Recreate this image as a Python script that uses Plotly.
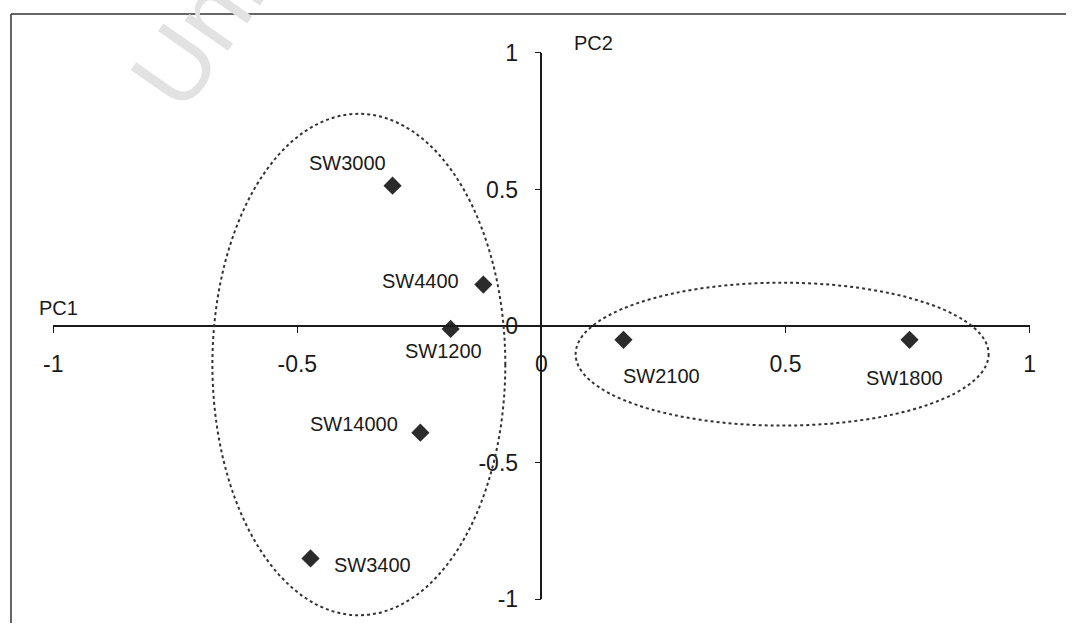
import plotly.graph_objects as go

# PCA scores of the samples
samples = ["SW3000", "SW4400", "SW1200", "SW2100", "SW1800", "SW14000", "SW3400"]
pc1 = [-0.305, -0.119, -0.186, 0.168, 0.754, -0.248, -0.473]
pc2 = [0.514, 0.152, -0.010, -0.050, -0.050, -0.390, -0.850]

# label offsets in pixels (dx, dy up-positive)
label_shift = {
    "SW3000": (-45, 23),
    "SW4400": (-63, 4),
    "SW1200": (-7, -22),
    "SW2100": (38, -36),
    "SW1800": (-5, -38),
    "SW14000": (-66, 9),
    "SW3400": (62, -7),
}

# cluster outlines: (x0, x1, y0, y1)
clusters = [
    (-0.674, -0.074, -1.058, 0.777),
    (0.070, 0.916, -0.364, 0.159),
]

tick_vals = [-1, -0.5, 0, 0.5, 1]
tick_text = ["-1", "-0.5", "0", "0.5", "1"]

W, H = 1072, 636
# pixel layout of the score space (origin and length of one unit)
X0_PX, X_UNIT = 539.5, 495.6
Y0_PX, Y_UNIT = 326.5, 284.9

FONT = "Liberation Sans, Arial, sans-serif"
INK = "#1a1a1a"

fig = go.Figure()

fig.add_trace(go.Scatter(
    x=pc1, y=pc2, mode="markers",
    marker=dict(symbol="diamond", size=14, color="#2b2b2b",
                line=dict(width=0)),
    hoverinfo="text", text=samples, showlegend=False,
    xaxis="x", yaxis="y",
))

# carrier trace for the drawn axes
fig.add_trace(go.Scatter(x=[None], y=[None], xaxis="x2", yaxis="y2",
                         showlegend=False, hoverinfo="skip"))

xr = [-X0_PX / X_UNIT, (W - X0_PX) / X_UNIT]
yr = [(Y0_PX - H) / Y_UNIT, Y0_PX / Y_UNIT]

axis_common = dict(
    range=[-1, 1], tickvals=tick_vals, ticktext=tick_text,
    showline=True, linecolor=INK, linewidth=1.5,
    ticks="outside", ticklen=6, tickwidth=1.3, tickcolor=INK,
    showgrid=False, zeroline=False, anchor="free",
    tickfont=dict(family=FONT, size=23, color=INK),
    fixedrange=True,
)

fig.update_layout(
    width=W, height=H,
    margin=dict(l=0, r=0, t=0, b=0),
    paper_bgcolor="white", plot_bgcolor="rgba(0,0,0,0)",
    xaxis=dict(domain=[0, 1], range=xr, visible=False, fixedrange=True),
    yaxis=dict(domain=[0, 1], range=yr, visible=False, fixedrange=True),
    xaxis2=dict(domain=[(X0_PX - X_UNIT) / W, (X0_PX + X_UNIT) / W],
                position=(H - Y0_PX) / H, side="bottom",
                ticklabelstandoff=11, **axis_common),
    yaxis2=dict(domain=[(H - (Y0_PX + Y_UNIT)) / H, (H - (Y0_PX - Y_UNIT)) / H],
                position=X0_PX / W, side="left",
                ticklabelstandoff=12, **axis_common),
    showlegend=False,
)

shapes = []
for x0, x1, y0, y1 in clusters:
    shapes.append(dict(type="circle", xref="x", yref="y",
                       x0=x0, x1=x1, y0=y0, y1=y1,
                       line=dict(color="#333333", width=2, dash="dot")))
# frame lines (top and left)
shapes.append(dict(type="line", xref="paper", yref="paper",
                   x0=1 / W, x1=1, y0=1 - 1 / H, y1=1 - 1 / H,
                   line=dict(color="#333", width=1.5)))
shapes.append(dict(type="line", xref="paper", yref="paper",
                   x0=1 / W, x1=1 / W, y0=0, y1=1 - 1 / H,
                   line=dict(color="#333", width=1.5)))
fig.update_layout(shapes=shapes)

annotations = []
for name, x, y in zip(samples, pc1, pc2):
    dx, dy = label_shift[name]
    annotations.append(dict(
        x=x, y=y, xref="x", yref="y", text=name, showarrow=False,
        xanchor="center", yanchor="middle", xshift=dx, yshift=dy,
        font=dict(family=FONT, size=20, color=INK),
    ))

annotations.append(dict(x=-0.99, y=0.068, xref="x", yref="y", text="PC1",
                        showarrow=False, xanchor="center", yanchor="middle",
                        font=dict(family=FONT, size=20, color=INK)))
annotations.append(dict(x=0.107, y=1.037, xref="x", yref="y", text="PC2",
                        showarrow=False, xanchor="center", yanchor="middle",
                        font=dict(family=FONT, size=20, color=INK)))

# faint watermark
annotations.append(dict(x=190 / W, y=1 - 22 / H, xref="paper", yref="paper",
                        text="Uni", showarrow=False, textangle=-55,
                        xanchor="center", yanchor="middle",
                        font=dict(family=FONT, size=100, color="#e2e2e2")))

fig.update_layout(annotations=annotations)

fig.write_html("out.html")
